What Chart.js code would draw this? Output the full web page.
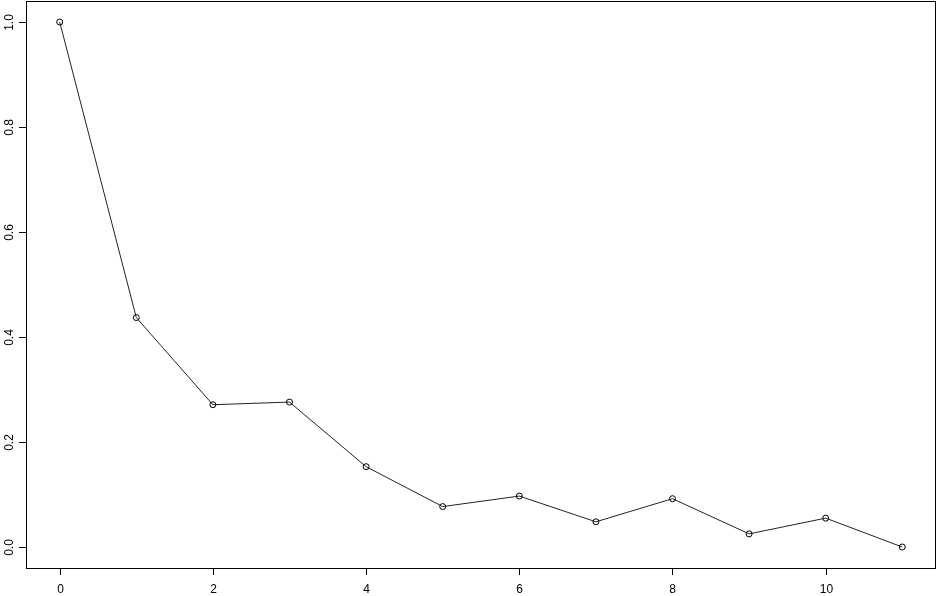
<!DOCTYPE html>
<html>
<head>
<meta charset="utf-8">
<style>
  html, body { margin: 0; padding: 0; background: #fff; }
  #wrap { width: 938px; height: 596px; }
</style>
<script src="https://cdn.jsdelivr.net/npm/chart.js@4/dist/chart.umd.min.js"></script>
</head>
<body>
<div id="wrap"><canvas id="acf"></canvas></div>
<script>
// data
const lags = [0, 1, 2, 3, 4, 5, 6, 7, 8, 9, 10, 11];
const values = [1.0, 0.437, 0.271, 0.276, 0.153, 0.077, 0.097, 0.048, 0.092, 0.025, 0.055, 0.0];
const xTicks = [0, 2, 4, 6, 8, 10];
const yTicks = [0, 0.2, 0.4, 0.6, 0.8, 1.0];
const yTickLabels = ["0.0", "0.2", "0.4", "0.6", "0.8", "1.0"];

// R-style box, ticks and rotated y labels
const baseAxes = {
  id: "baseAxes",
  afterDraw(chart) {
    const { ctx, chartArea: a, scales } = chart;
    const x = scales.x, y = scales.y;
    ctx.save();
    ctx.strokeStyle = "#000";
    ctx.lineWidth = 1;
    ctx.strokeRect(a.left + 0.5, a.top + 0.5, a.right - a.left - 1, a.bottom - a.top);

    ctx.fillStyle = "#000";
    ctx.font = "12px 'Liberation Sans', Arial, sans-serif";

    // x axis
    ctx.textAlign = "center";
    ctx.textBaseline = "middle";
    xTicks.forEach(t => {
      const px = Math.round(x.getPixelForValue(t)) + 0.5;
      ctx.beginPath();
      ctx.moveTo(px, a.bottom);
      ctx.lineTo(px, a.bottom + 7);
      ctx.stroke();
      ctx.fillText(String(t), px, a.bottom + 22);
    });

    // y axis
    yTicks.forEach((t, i) => {
      const py = Math.round(y.getPixelForValue(t)) + 0.5;
      ctx.beginPath();
      ctx.moveTo(a.left, py);
      ctx.lineTo(a.left - 7, py);
      ctx.stroke();
      ctx.save();
      ctx.translate(a.left - 16, py);
      ctx.rotate(-Math.PI / 2);
      ctx.fillText(yTickLabels[i], 0, 0);
      ctx.restore();
    });
    ctx.restore();
  }
};

new Chart(document.getElementById("acf"), {
  type: "line",
  data: {
    datasets: [{
      data: lags.map((l, i) => ({ x: l, y: values[i] })),
      borderColor: "#222",
      borderWidth: 1,
      pointRadius: 3,
      pointBorderWidth: 1,
      pointBorderColor: "#000",
      pointBackgroundColor: "rgba(0,0,0,0)",
      tension: 0,
      fill: false
    }]
  },
  options: {
    responsive: true,
    maintainAspectRatio: false,
    animation: false,
    layout: { autoPadding: false, padding: { left: 26, top: 1, right: 2, bottom: 28 } },
    scales: {
      x: { type: "linear", min: -0.44, max: 11.44, display: false },
      y: { type: "linear", min: -0.04, max: 1.04, display: false }
    },
    plugins: {
      legend: { display: false },
      tooltip: { enabled: false }
    }
  },
  plugins: [baseAxes]
});
</script>
</body>
</html>
